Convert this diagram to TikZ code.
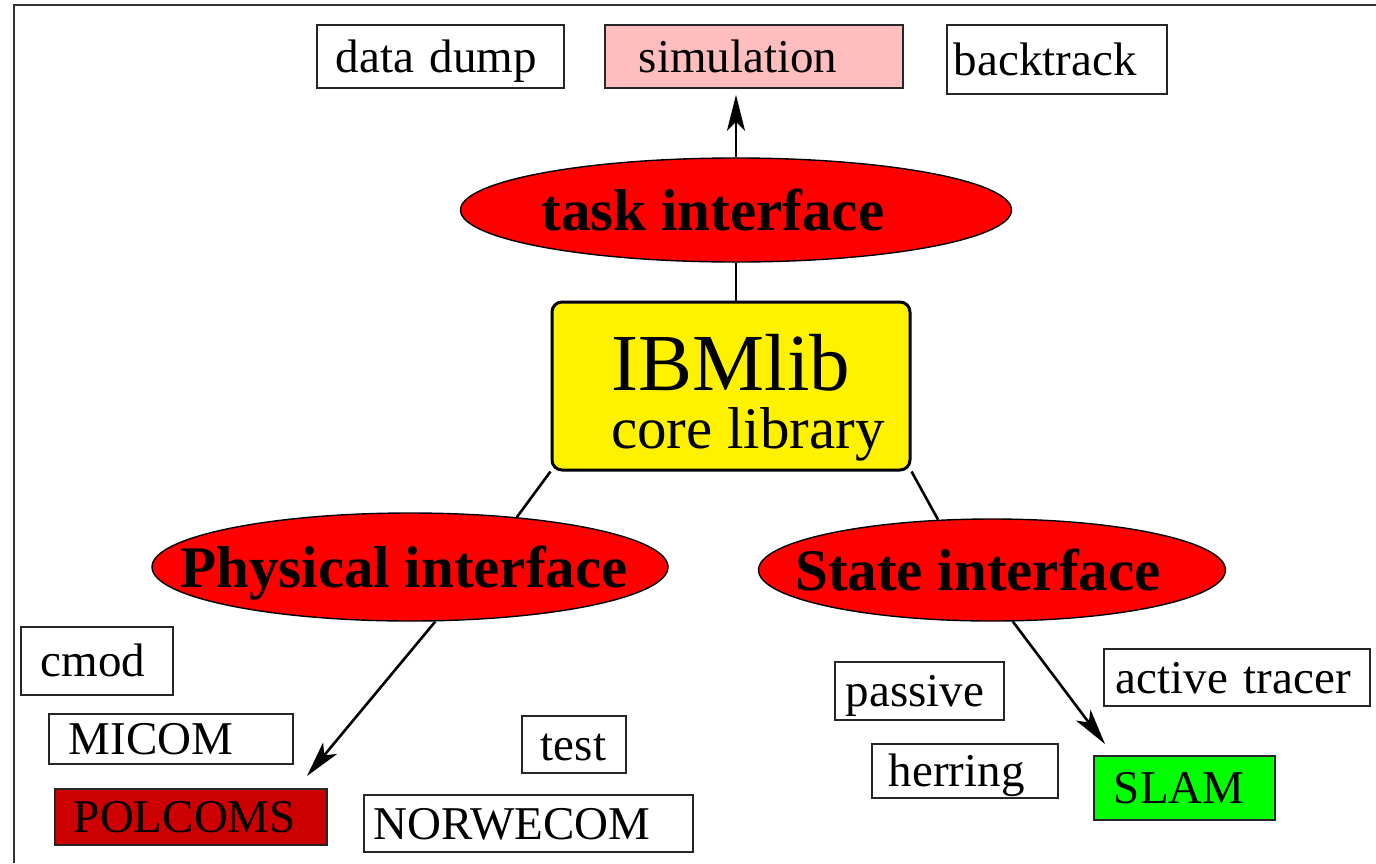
\documentclass[tikz,border=0pt]{standalone}
\usepackage{fontspec}
\setmainfont{Liberation Serif}
\usetikzlibrary{shapes.geometric,arrows.meta}
\definecolor{simpink}{RGB}{255,190,190}
\definecolor{polred}{RGB}{204,0,0}
\definecolor{slamgreen}{RGB}{0,255,0}
\tikzset{
  modbox/.style={draw=black!85, line width=1.8pt, anchor=north west, align=left,
    inner ysep=0pt, text height=36pt, text depth=4pt,
    font=\fontsize{47}{50}\selectfont},
  iface/.style={ellipse, draw=black, line width=1.4pt, fill=red, inner sep=0pt,
    text height=40pt, text depth=0pt, font=\fontsize{59}{60}\selectfont\bfseries},
  link/.style={line width=2.6pt},
  flow/.style={line width=2.6pt, -{Stealth[length=36pt,width=18pt,inset=9pt]}},
}

\begin{document}
\begin{tikzpicture}[x=1pt, y=-1pt]
\useasboundingbox (0,0) rectangle (1376,863);
\draw[line width=2.4pt, black!80] (14,863) -- (14,5) -- (1376,5);
% tasks
\node[modbox, minimum height=63pt, inner xsep=19pt, text width=209pt] (datadump) at (316,24) {data dump};
\node[modbox, fill=simpink, minimum height=63pt, inner xsep=34pt, text width=230pt] (simulation) at (604,24) {simulation};
\node[modbox, minimum height=69pt, inner xsep=7pt, text width=206pt] (backtrack) at (946,24) {backtrack};
% physical models
\node[modbox, minimum height=68pt, inner xsep=20pt, text width=112pt] (cmod) at (20,626) {cmod};
\node[modbox, minimum height=50pt, inner xsep=20pt, text width=204pt] (micom) at (48,713) {MICOM};
\node[modbox, fill=polred, minimum height=56pt, inner xsep=19pt, text width=234pt] (polcoms) at (54,788) {POLCOMS};
\node[modbox, minimum height=57pt, inner xsep=19pt, text width=66pt] (test) at (521,715) {test};
\node[modbox, minimum height=57pt, inner xsep=10pt, text width=309pt] (norwecom) at (363,794) {NORWECOM};
% state models
\node[modbox, minimum height=58pt, inner xsep=11pt, text width=147pt] (passive) at (834,661) {passive};
\node[modbox, minimum height=54pt, inner xsep=17pt, text width=152pt] (herring) at (871,743) {herring};
\node[modbox, fill=slamgreen, minimum height=64pt, inner xsep=20pt, text width=141pt] (slam) at (1093,755) {SLAM};
\node[modbox, minimum height=57pt, inner xsep=12pt, text width=242pt] (tracer) at (1103,648) {active tracer};
% interfaces
\node[iface, minimum width=551pt, minimum height=104pt] (task) at (736,210) {\makebox[0pt]{\hspace*{-46pt}task interface}};
\node[iface, minimum width=516pt, minimum height=108pt] (phys) at (410,567) {\makebox[0pt]{\hspace*{-12pt}Physical interface}};
\node[iface, minimum width=467pt, minimum height=102pt] (state) at (992,570) {\makebox[0pt]{\hspace*{-28pt}State interface}};
% core
\node[draw, line width=3pt, fill=yellow, rounded corners=10pt, minimum width=358pt, minimum height=168pt,
  align=center, inner sep=0pt, font=\fontsize{59}{58}\selectfont] (ibmlib) at (731,386)
  {\rule{0pt}{79pt}{\fontsize{81}{58}\selectfont IBMlib}\\\hspace*{34pt}core library};
% connectors
\coordinate (poltip) at (307,776);
\coordinate (slamtip) at (1105,744);
\draw[flow, shorten >=6pt] (task.north) -- (task.north |- simulation.south);
\draw[link] (task.south) -- (task.south |- ibmlib.north);
\draw[link] (ibmlib.south west) -- (phys.25);
\draw[link] (ibmlib.south east) -- (state.137);
\draw[flow] (phys.-65) -- (poltip);
\draw[flow] (state.-68) -- (slamtip);
\end{tikzpicture}
\end{document}
